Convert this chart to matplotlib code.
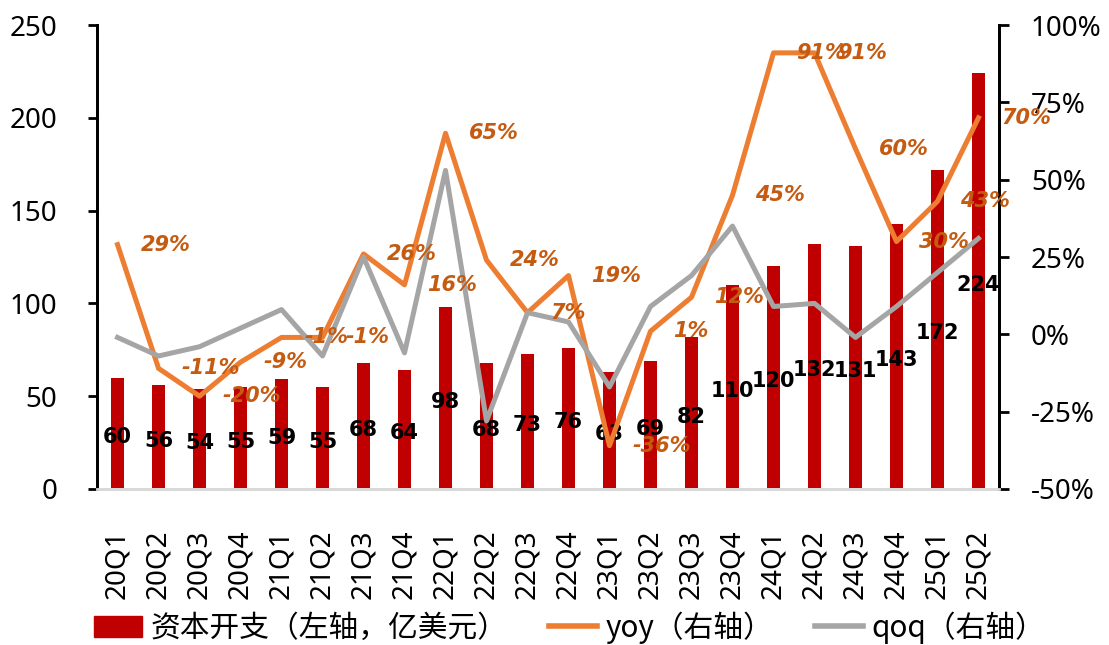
import matplotlib
matplotlib.use("Agg")
import matplotlib.pyplot as plt
from matplotlib.patches import Patch
from matplotlib.lines import Line2D
import numpy as np

plt.rcParams['font.family'] = ['Noto Sans', 'Noto Sans CJK SC', 'DejaVu Sans']

# -----------------------------------------------------------
# data
# -----------------------------------------------------------
quarters = ["20Q1", "20Q2", "20Q3", "20Q4", "21Q1", "21Q2", "21Q3", "21Q4",
            "22Q1", "22Q2", "22Q3", "22Q4", "23Q1", "23Q2", "23Q3", "23Q4",
            "24Q1", "24Q2", "24Q3", "24Q4", "25Q1", "25Q2"]
capex = [60, 56, 54, 55, 59, 55, 68, 64, 98, 68, 73, 76, 63, 69, 82, 110,
         120, 132, 131, 143, 172, 224]
yoy = [29, -11, -20, -9, -1, -1, 26, 16, 65, 24, 7, 19, -36, 1, 12, 45,
       91, 91, 60, 30, 43, 70]
qoq = [-1, -7, -4, 2, 8, -7, 25, -6, 53, -28, 7, 4, -17, 9, 19, 35,
       9, 10, -1, 9, 20, 31]

RED = "#C00000"
ORANGE = "#ED7D31"
GRAY = "#A5A5A5"
LABEL_ORANGE = "#C55A11"

fig = plt.figure(figsize=(11.09, 6.45), dpi=100)
ax = fig.add_axes([0.0875, 0.2419, 0.8133, 0.7193])
ax2 = ax.twinx()

x = np.arange(len(quarters))

# bars with value labels in the middle
ax.bar(x, capex, width=0.32, color=RED, zorder=2)
for xi, v in zip(x, capex):
    ax.text(xi, v / 2 - 2, f"{v}", ha="center", va="center",
            fontsize=15, fontweight="bold", color="black",
            family="DejaVu Sans", zorder=5)

# yoy / qoq lines
ax2.plot(x, yoy, color=ORANGE, lw=3.6, zorder=3)
ax2.plot(x, qoq, color=GRAY, lw=3.6, zorder=3)
for xi, v in zip(x, yoy):
    ax2.annotate(f"{v}%", (xi, v), xytext=(23, 0), textcoords="offset pixels",
                 ha="left", va="center", fontsize=15, fontweight="bold",
                 fontstyle="italic", color=LABEL_ORANGE, family="DejaVu Sans",
                 zorder=6)

# axes
ax.set_xlim(-0.5, len(quarters) - 0.5)
ax.set_ylim(0, 250)
ax.set_yticks(range(0, 251, 50))
ax2.set_ylim(-50, 100)
ax2.set_yticks(range(-50, 101, 25))
ax2.set_yticklabels([f"{t}%" for t in range(-50, 101, 25)])

ax.set_xticks(x)
ax.set_xticklabels(quarters, rotation=90)
ax.tick_params(axis="x", length=0, pad=29, labelsize=20)
ax.tick_params(axis="y", direction="out", length=6.5, width=2, labelsize=20, pad=22)
ax2.tick_params(axis="y", direction="out", length=7, width=2, labelsize=20, pad=16)

for a in (ax, ax2):
    a.spines["top"].set_visible(False)
    a.spines["bottom"].set_color("#D9D9D9")
    a.spines["bottom"].set_linewidth(2)
    a.spines["left"].set_linewidth(2)
    a.spines["right"].set_linewidth(2)
ax2.set_zorder(ax.get_zorder() + 1)
ax2.patch.set_visible(False)

# legend
handles = [Patch(color=RED),
           Line2D([0], [0], color=ORANGE, lw=4),
           Line2D([0], [0], color=GRAY, lw=4)]
labels = ["资本开支（左轴，亿美元）", "yoy（右轴）", "qoq（右轴）"]
fig.legend(handles, labels, loc="center", bbox_to_anchor=(0.514, 0.027),
           ncol=3, frameon=False, handlelength=1.6,
           handletextpad=0.3, columnspacing=1.4,
           prop={"family": ["Noto Sans CJK SC", "DejaVu Sans"], "size": 21.4})

fig.savefig("out.png", dpi=100)
